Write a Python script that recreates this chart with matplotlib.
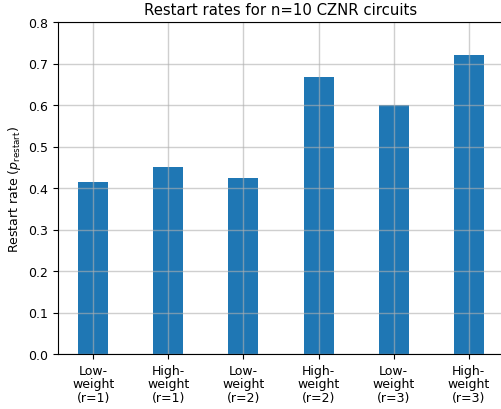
import matplotlib
matplotlib.use("Agg")
import matplotlib.pyplot as plt
import numpy as np

# restart rates
labels = ["Low-\nweight\n(r=1)", "High-\nweight\n(r=1)", "Low-\nweight\n(r=2)",
          "High-\nweight\n(r=2)", "Low-\nweight\n(r=3)", "High-\nweight\n(r=3)"]
rates = [0.415, 0.45, 0.425, 0.667, 0.6, 0.721]

plt.rcParams["font.size"] = 9

fig = plt.figure(figsize=(5.01, 4.10), dpi=100)
ax = fig.add_axes([58 / 501, 55 / 410, 446 / 501, 332 / 410])

x = np.arange(len(labels))
ax.bar(x, rates, width=0.4, color="#1f77b4")
ax.set_xticks(x)
ax.set_xticklabels(labels, linespacing=1.05)
ax.set_ylim(0, 0.8)
ax.set_xlim(-0.47, 5.47)
ax.grid(True, alpha=0.6, linewidth=1.0)
ax.set_ylabel(r"Restart rate ($p_{\mathrm{restart}}$)")
ax.set_title("Restart rates for n=10 CZNR circuits", fontsize=10.7)

fig.savefig("out.png", dpi=100)
